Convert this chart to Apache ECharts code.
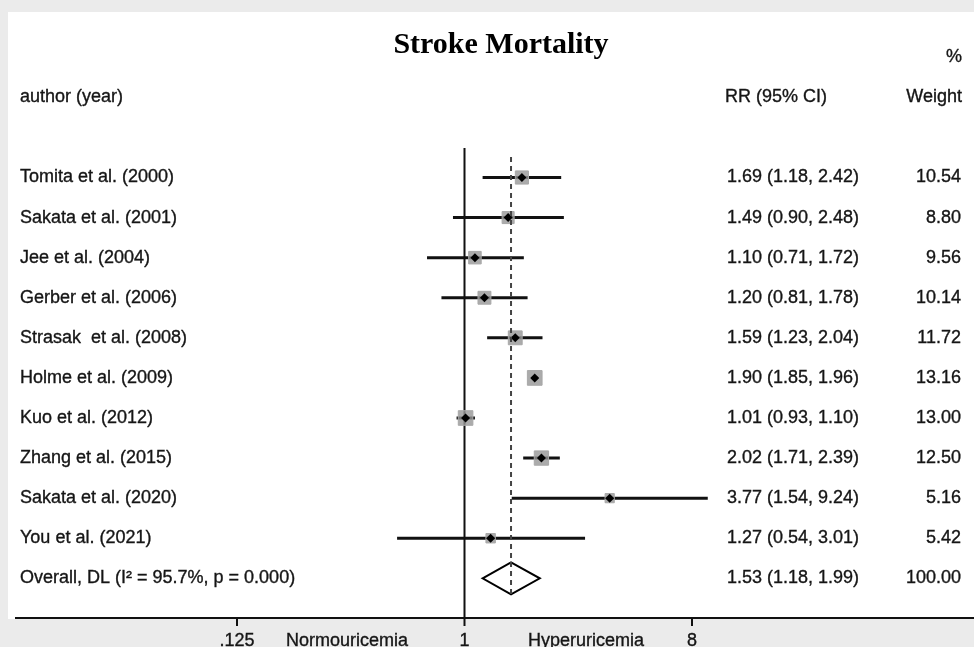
<!DOCTYPE html>
<html><head><meta charset="utf-8">
<script src="https://cdn.jsdelivr.net/npm/echarts@6/dist/echarts.min.js"></script>
<style>html,body{margin:0;padding:0;background:#ebebeb}#c{width:974px;height:647px}</style>
</head><body><div id="c"></div><script>
// ---- data ----
const studies = ['Tomita et al. (2000)', 'Sakata et al. (2001)', 'Jee et al. (2004)', 'Gerber et al. (2006)', 'Strasak  et al. (2008)', 'Holme et al. (2009)', 'Kuo et al. (2012)', 'Zhang et al. (2015)', 'Sakata et al. (2020)', 'You et al. (2021)'];
const rr      = [1.69, 1.49, 1.10, 1.20, 1.59, 1.90, 1.01, 2.02, 3.77, 1.27];
const lower   = [1.18, 0.90, 0.71, 0.81, 1.23, 1.85, 0.93, 1.71, 1.54, 0.54];
const upper   = [2.42, 2.48, 1.72, 1.78, 2.04, 1.96, 1.10, 2.39, 9.24, 3.01];
const weights = [10.54, 8.80, 9.56, 10.14, 11.72, 13.16, 13.00, 12.50, 5.16, 5.42];
const overallLabel = 'Overall, DL (I\u00B2 = 95.7%, p = 0.000)';
const overallRR = 1.53, overallLower = 1.18, overallUpper = 1.99, overallWeight = 100.00;
const tickValues = [0.125, 1, 8];
const tickLabels = ['.125', '1', '8'];
const titleText = 'Stroke Mortality';
const headers = { study: 'author (year)', rr: 'RR (95% CI)', weight: 'Weight', pct: '%' };
const sideLabels = ['Normouricemia', 'Hyperuricemia'];

// ---- styling ----
const FONT = '"Liberation Sans", Arial, sans-serif';
const TXT = '#151515';
const FS = 18;

const fmt = v => v.toFixed(2);
const studyData = studies.map((s, i) => [rr[i], i, lower[i], upper[i], weights[i]]);
const overallRow = studies.length;
const tableRows = studies.map((s, i) => ({
  label: s, ci: fmt(rr[i]) + ' (' + fmt(lower[i]) + ', ' + fmt(upper[i]) + ')', w: fmt(weights[i]), row: i
}));
tableRows.push({ label: overallLabel, ci: fmt(overallRR) + ' (' + fmt(overallLower) + ', ' + fmt(overallUpper) + ')', w: fmt(overallWeight), row: overallRow });

const chart = echarts.init(document.getElementById('c'), null, { renderer: 'canvas' });

function txt(text, x, y, align, extra) {
  return Object.assign({ type: 'text', style: { text, x, y, align: align || 'left', verticalAlign: 'middle', fill: TXT, stroke: TXT, lineWidth: 0.35, fontSize: FS, fontFamily: FONT } }, extra || {});
}

const option = {
  backgroundColor: '#ebebeb',
  animation: false,
  grid: { left: 237, width: 455, top: 148, bottom: 29 },
  xAxis: {
    type: 'log', logBase: 2, min: 0.125, max: 8,
    axisLine: { show: false }, axisTick: { show: false }, axisLabel: { show: false }, splitLine: { show: false }
  },
  yAxis: {
    type: 'value', inverse: true, min: -0.736, max: 10.99,
    axisLine: { show: false }, axisTick: { show: false }, axisLabel: { show: false }, splitLine: { show: false }
  },
  graphic: [
    { type: 'rect', z: -10, shape: { x: 8, y: 12, width: 966, height: 607 }, style: { fill: '#ffffff' } },
    { type: 'line', z: 5, shape: { x1: 15, y1: 618, x2: 974, y2: 618 }, style: { stroke: '#111', lineWidth: 2 } },
    { type: 'text', z: 5, style: { text: titleText, x: 501, y: 45, align: 'center', verticalAlign: 'middle', fill: '#000', fontSize: 30, fontWeight: 'bold', fontFamily: '"Liberation Serif", "DejaVu Serif", serif' } },
    txt(headers.pct, 962, 57, 'right', { z: 5 }),
    txt(headers.study, 20, 97, 'left', { z: 5 }),
    txt(headers.rr, 725, 97, 'left', { z: 5 }),
    txt(headers.weight, 962, 97, 'right', { z: 5 }),
    txt(sideLabels[0], 347, 641, 'center', { z: 5 }),
    txt(sideLabels[1], 586, 641, 'center', { z: 5 })
  ],
  series: [
    { // reference line at 1 and axis ticks / labels
      type: 'custom', clip: false, z: 3,
      data: tickValues.map((v, i) => [v, i]),
      encode: { x: 0 },
      renderItem: (params, api) => {
        const cs = params.coordSys;
        const v = api.value(0);
        const x = api.coord([v, 0])[0];
        const bottom = cs.y + cs.height;
        const children = [
          { type: 'line', shape: { x1: x, y1: v === 1 ? cs.y : bottom, x2: x, y2: bottom + 8 }, style: { stroke: '#111', lineWidth: 2 } },
          txt(tickLabels[params.dataIndex], x, 641, 'center')
        ];
        return { type: 'group', children };
      }
    },
    { // study CIs, squares, point markers
      type: 'custom', clip: false, z: 4,
      data: studyData,
      encode: { x: 0, y: 1 },
      renderItem: (params, api) => {
        const y = api.coord([1, api.value(1)])[1];
        const xc = api.coord([api.value(0), 0])[0];
        const xl = api.coord([api.value(2), 0])[0];
        const xu = api.coord([api.value(3), 0])[0];
        const s = 4.05 * Math.sqrt(api.value(4));
        const d = 4.5;
        return { type: 'group', children: [
          { type: 'line', shape: { x1: xl, y1: y, x2: xu, y2: y }, style: { stroke: '#111', lineWidth: 3 } },
          { type: 'rect', shape: { x: xc - s / 2, y: y - s / 2, width: s, height: s }, style: { fill: 'rgba(150,150,150,0.8)', stroke: '#a8a8a8', lineWidth: 1 } },
          { type: 'polygon', shape: { points: [[xc - d, y], [xc, y - d], [xc + d, y], [xc, y + d]] }, style: { fill: '#000' } }
        ] };
      }
    },
    { // overall diamond + dashed line
      type: 'custom', clip: false, z: 5,
      data: [[overallRR, overallRow, overallLower, overallUpper]],
      encode: { x: 0, y: 1 },
      renderItem: (params, api) => {
        const y = api.coord([1, api.value(1)])[1];
        const yTop = api.coord([1, 0])[1] - 20.5;
        const xc = api.coord([api.value(0), 0])[0];
        const xl = api.coord([api.value(2), 0])[0];
        const xu = api.coord([api.value(3), 0])[0];
        const h = 16;
        return { type: 'group', children: [
          { type: 'polygon', shape: { points: [[xl, y], [xc, y - h], [xu, y], [xc, y + h]] }, style: { fill: 'none', stroke: '#000', lineWidth: 2 } },
          { type: 'line', shape: { x1: xc, y1: yTop, x2: xc, y2: y + h + 3 }, style: { stroke: '#444', lineWidth: 2, lineDash: [5, 4] } }
        ] };
      }
    },
    { // table text columns
      type: 'custom', clip: false, z: 5,
      data: tableRows.map(r => [1, r.row]),
      encode: { x: 0, y: 1 },
      renderItem: (params, api) => {
        const r = tableRows[params.dataIndex];
        const y = api.coord([1, api.value(1)])[1];
        return { type: 'group', children: [
          txt(r.label, 20, y, 'left'),
          txt(r.ci, 727, y, 'left'),
          txt(r.w, 961, y, 'right')
        ] };
      }
    }
  ]
};
chart.setOption(option);
</script></body></html>
